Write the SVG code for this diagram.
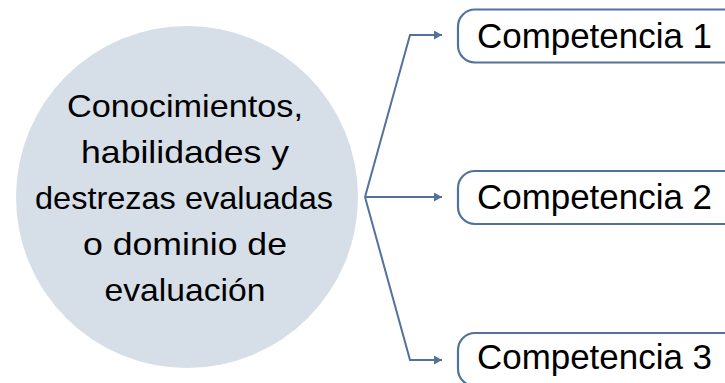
<svg xmlns="http://www.w3.org/2000/svg" width="725" height="383" viewBox="0 0 725 383">
<defs>
<style>
.conn{fill:none;stroke:#52729D;stroke-width:2}
.box{fill:#fff;stroke:#52729D;stroke-width:2.2}
.lbl{font-family:"Liberation Sans",Arial,sans-serif;font-size:35px;fill:#000}
.ctext{font-family:"Liberation Sans",Arial,sans-serif;font-size:32px;fill:#000;text-anchor:middle}
</style>
<marker id="ah" viewBox="0 0 8 9" refX="8" refY="4.5" markerWidth="8" markerHeight="9" markerUnits="userSpaceOnUse" orient="auto">
<path d="M0,0 L8,4.5 L0,9 z" fill="#52729D"/>
</marker>
</defs>
<rect width="725" height="383" fill="#fff"/>
<g id="center">
<circle cx="187" cy="197" r="171" fill="#D6DEE7"/>
<text class="ctext" x="185" y="117" textLength="236" lengthAdjust="spacingAndGlyphs">Conocimientos,</text>
<text class="ctext" x="185" y="163" textLength="208" lengthAdjust="spacingAndGlyphs">habilidades y</text>
<text class="ctext" x="184" y="209" textLength="298" lengthAdjust="spacingAndGlyphs">destrezas evaluadas</text>
<text class="ctext" x="185" y="255" textLength="204" lengthAdjust="spacingAndGlyphs">o dominio de</text>
<text class="ctext" x="185" y="301" textLength="161" lengthAdjust="spacingAndGlyphs">evaluación</text>
</g>
<g id="connectors">
<path class="conn" d="M365,197 L410,35 L442,35" marker-end="url(#ah)"/>
<path class="conn" d="M365,197 L442,197" marker-end="url(#ah)"/>
<path class="conn" d="M365,197 L410,360 L442,360" marker-end="url(#ah)"/>
</g>
<g id="comp1">
<rect class="box" x="458" y="9.5" width="290" height="53" rx="17"/>
<text class="lbl" x="477" y="48" textLength="235" lengthAdjust="spacingAndGlyphs">Competencia 1</text>
</g>
<g id="comp2">
<rect class="box" x="458" y="171" width="290" height="53" rx="17"/>
<text class="lbl" x="477" y="209" textLength="235" lengthAdjust="spacingAndGlyphs">Competencia 2</text>
</g>
<g id="comp3">
<rect class="box" x="458" y="333" width="290" height="53" rx="17"/>
<text class="lbl" x="477" y="369" textLength="235" lengthAdjust="spacingAndGlyphs">Competencia 3</text>
</g>
</svg>
